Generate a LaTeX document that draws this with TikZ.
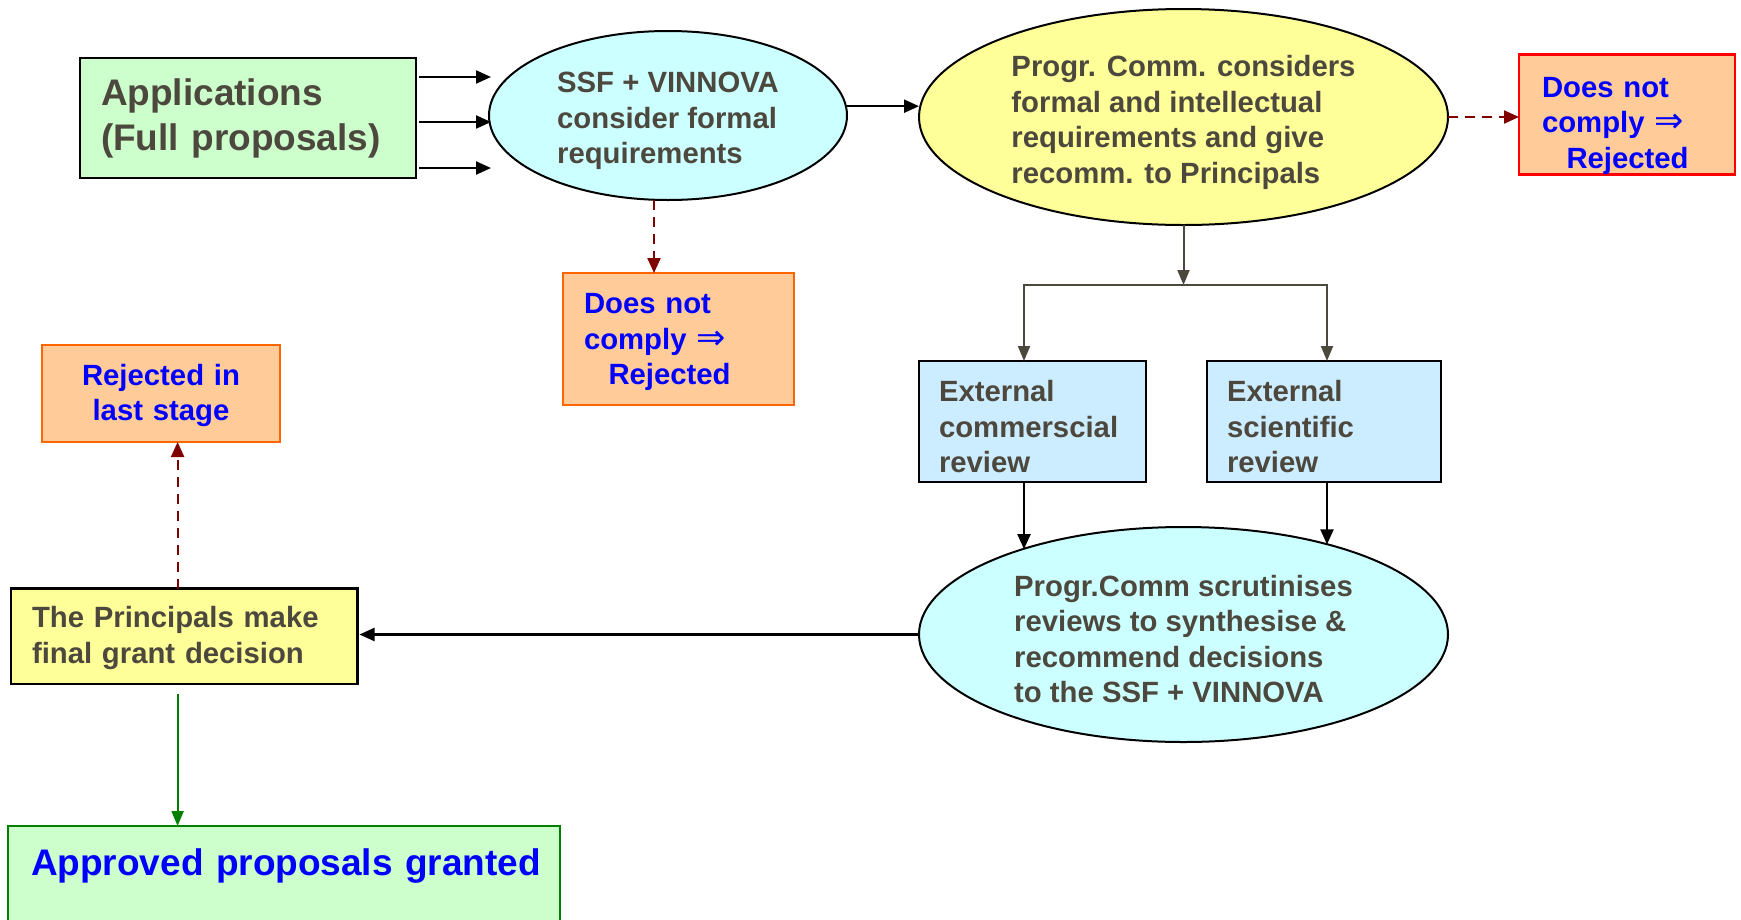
\documentclass[tikz,border=0pt]{standalone}
\usepackage{fontspec}
\setmainfont{Liberation Sans}
\newfontfamily\symf{DejaVu Sans}
\usetikzlibrary{arrows.meta,shapes.geometric,calc}
\definecolor{tgray}{RGB}{77,72,62}
\definecolor{fgreen}{HTML}{CCFFCC}
\definecolor{fcyan}{HTML}{CCFFFF}
\definecolor{fyellow}{HTML}{FFFF99}
\definecolor{forange}{HTML}{FFCC99}
\definecolor{borange}{HTML}{FF6600}
\definecolor{fblue}{HTML}{CCECFF}
\definecolor{dred}{HTML}{800000}
\definecolor{dgreen}{HTML}{008000}
\newcommand{\nfont}{\fontsize{29.3}{35.5}\selectfont\bfseries}
\newcommand{\bfont}{\fontsize{37}{45}\selectfont\bfseries}
\newcommand{\imp}{{\symf\mdseries\fontsize{35}{35}\selectfont ⇒}}
\tikzset{
  box/.style={rectangle, draw=black, line width=2.5pt, inner ysep=0pt, outer sep=0pt, font=\nfont, text=tgray, align=left},
  ell/.style={ellipse, draw=black, line width=2pt, inner sep=0pt, outer sep=0pt, font=\nfont, text=tgray, align=left},
  rej/.style={box, fill=forange, draw=borange, text=blue},
  arr/.style={line width=2.2pt, black, -{Triangle[length=15pt,width=13pt]}},
  garr/.style={line width=2pt, tgray, -{Triangle[length=15pt,width=12pt]}},
  darr/.style={line width=2.2pt, dred, dash pattern=on 10pt off 7pt, -{Triangle[length=15pt,width=13pt]}},
  grarr/.style={line width=2pt, dgreen, -{Triangle[length=15pt,width=12pt]}}
}
\begin{document}
\begin{tikzpicture}[x=1pt,y=-1pt]
\useasboundingbox (0,0) rectangle (1741,919);
\fill[white] (0,0) rectangle (1741,919);

\node[box, fill=fgreen, minimum width=336pt, minimum height=120pt, text width=294pt, inner xsep=21pt, font=\bfont] (app) at (248,118) {Applications\\(Full proposals)};

\node[ell, fill=fcyan, minimum width=358pt, minimum height=169pt] (e1) at (668,115.5) {\rule{0pt}{32pt}SSF + VINNOVA\\consider formal\\requirements};

\node[ell, fill=fyellow, minimum width=529pt, minimum height=216pt] (e2) at (1183.5,117) {\rule{0pt}{32pt}Progr. Comm. considers\\formal and intellectual\\requirements and give\\recomm. to Principals};

\node[rej, draw=red, minimum width=216pt, minimum height=115pt, text width=170pt, inner xsep=23pt] (rj1) at (1627,114.5) {\rule{0pt}{43pt}Does not\\comply \imp\\\hspace*{24.5pt}Rejected};

\node[rej, minimum width=231pt, minimum height=132pt, text width=189pt, inner xsep=21pt] (rj2) at (678.5,339) {\rule{0pt}{27pt}Does not\\comply \imp\\\hspace*{24.5pt}Rejected};

\node[box, fill=fblue, minimum width=227pt, minimum height=121pt, text width=187pt, inner xsep=20pt] (rev1) at (1032.5,421.5) {\rule{0pt}{32pt}External\\commerscial\\review};

\node[box, fill=fblue, minimum width=234pt, minimum height=121pt, text width=194pt, inner xsep=20pt] (rev2) at (1324,421.5) {\rule{0pt}{32pt}External\\scientific\\review};

\node[ell, fill=fcyan, minimum width=529pt, minimum height=215pt] (e3) at (1183.5,634.5) {\rule{0pt}{30pt}Progr.Comm scrutinises\\reviews to synthesise \&\\recommend decisions\\to the SSF + VINNOVA};

\node[box, fill=fyellow, minimum width=346.5pt, minimum height=95.5pt, text width=304.5pt, inner xsep=21pt] (pr) at (184.25,636.25) {\rule{0pt}{25pt}The Principals make\\final grant decision};

\node[rej, minimum width=238pt, minimum height=97pt, text width=238pt, inner xsep=0pt, align=center] (rl) at (161,393.5) {\rule{0pt}{25pt}Rejected in\\last stage};

\node[box, fill=fgreen, draw=dgreen, minimum width=552pt, minimum height=96pt, text width=506pt, inner xsep=23pt, font=\bfont, text=blue] (ap) at (284,874) {\mbox{Approved proposals granted}\rule[-24pt]{0pt}{24pt}};

% connectors
\coordinate (a1) at (491,77);
\coordinate (a2) at (491,122);
\coordinate (a3) at (491,168);
\draw[arr] (app.east |- a1) ++(3,0) -- (a1);
\draw[arr] (app.east |- a2) ++(3,0) -- (a2);
\draw[arr] (app.east |- a3) ++(3,0) -- (a3);

\draw[arr] (e1.3) -- (e1.3 -| e2.west);
\draw[darr] (e2.east) -- (e2.east -| rj1.west);

\coordinate (d1) at (654,0);
\draw[darr] (d1 |- e1.south) -- (d1 |- rj2.north);

\coordinate (split) at (1183.5,285);
\draw[garr] (e2.south) -- (split);
\coordinate (cl) at (1024,0);
\coordinate (cr) at (1327,0);
\draw[garr] (split) -| (cl |- rev1.north);
\draw[garr] (split) -| (cr |- rev2.north);

\draw[arr] (cl |- rev1.south) -- (cl |- e3.152);
\draw[arr] (cr |- rev2.south) -- (cr |- e3.32);

\draw[arr, shorten >=2pt] (e3.west) -- (e3.west -| pr.east);

\coordinate (cx) at (177.6,0);
\draw[darr] (cx |- pr.north) -- (cx |- rl.south);
\draw[grarr] ($(cx |- pr.south)+(0,10)$) -- (cx |- ap.north);
\end{tikzpicture}
\end{document}
